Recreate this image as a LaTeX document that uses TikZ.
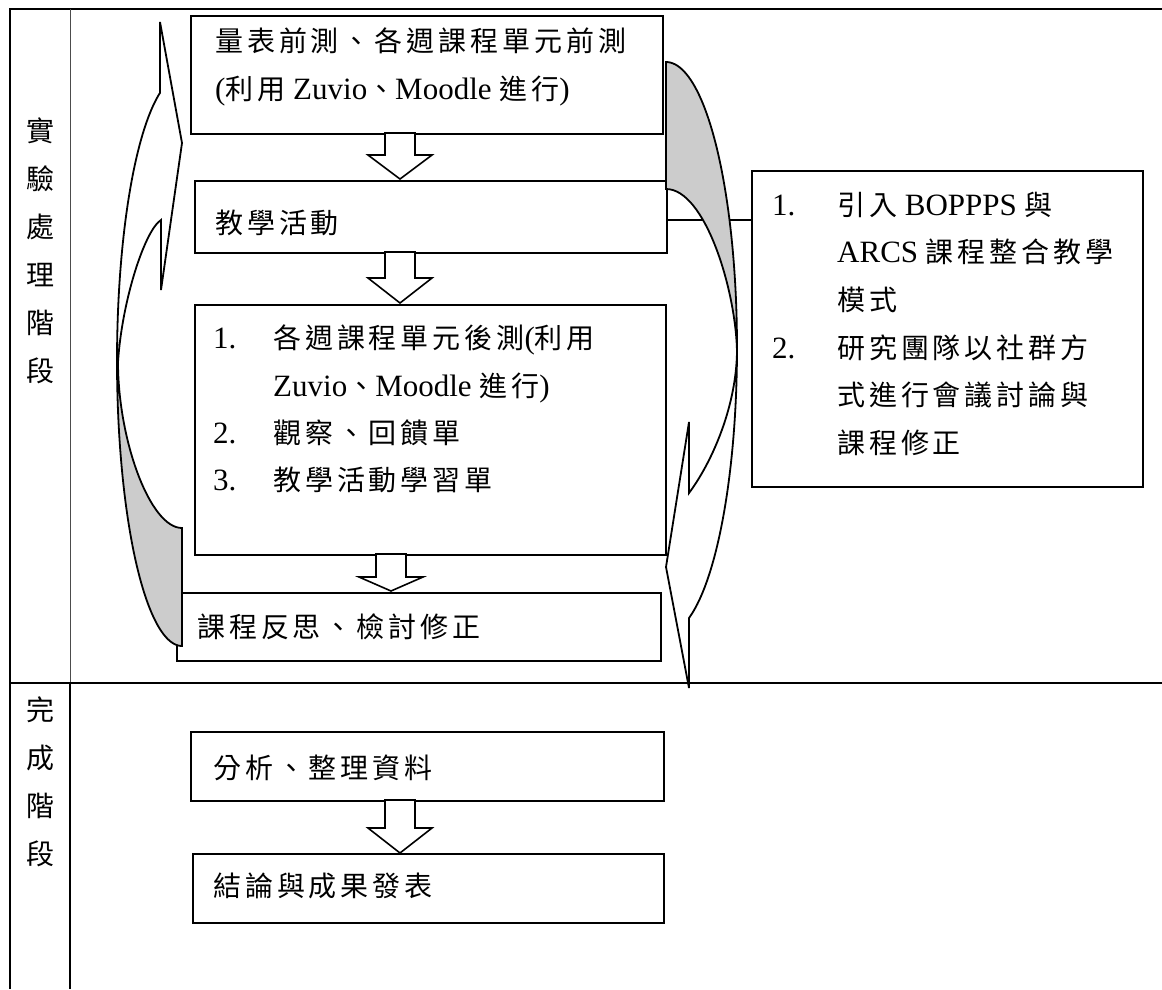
\documentclass[tikz,border=0pt]{standalone}
\usepackage{fontspec}
\setmainfont{Liberation Serif}
\newfontfamily\cjkf[LetterSpace=14]{Noto Sans CJK TC}
\newfontfamily\latf{Liberation Serif}
\newcommand\zhtext[1]{{\fontsize{28pt}{34pt}\cjkf #1}}
\newcommand\entext[1]{{\fontsize{31pt}{36pt}\latf #1}}
\tikzset{
  tline/.style={line width=2.2pt},
  thinline/.style={line width=1pt, black!70},
  box/.style={draw, line width=1.6pt, fill=white, inner sep=0pt, anchor=north west},
  txt/.style={anchor=base west, inner sep=0pt},
  carrow/.style={line width=1.8pt, line join=miter},
  hollow/.style={draw, line width=1.6pt, fill=white, line join=miter},
  conn/.style={line width=1.6pt},
  vlabel/.style={align=center, inner sep=0pt, font=\fontsize{28pt}{48pt}\cjkf},
}
\newcommand\dnarrow[4]{\draw[hollow] (#1-15,#2) -- (#1-15,#3) -- (#1-32,#3) -- (#1,#4) -- (#1+32,#3) -- (#1+15,#3) -- (#1+15,#2) -- cycle;}
\begin{document}
\begin{tikzpicture}[x=1pt, y=-1pt]
\useasboundingbox (0,0) rectangle (1162,989);
% table
\draw[tline] (9,9) -- (1162,9);
\draw[tline] (10,9) -- (10,989);
\draw[thinline] (70,9) -- (70,683);
\draw[tline] (70,683) -- (70,989);
\draw[tline] (9,683) -- (1162,683);
% left labels
\node[vlabel] (lab1) at (40,251) {實\\驗\\處\\理\\階\\段};
\node[vlabel] (lab2) at (40,782) {完\\成\\階\\段};
% boxes
\node[box, minimum width=472pt, minimum height=118pt] (b1) at (190,15) {};
\node[box, minimum width=472pt, minimum height=72pt] (b2) at (194,180) {};
\node[box, minimum width=471pt, minimum height=250pt] (b3) at (194,304) {};
\node[box, minimum width=484pt, minimum height=68pt] (b4) at (176,592) {};
\node[box, minimum width=391pt, minimum height=316pt] (b5) at (751,170) {};
\node[box, minimum width=473pt, minimum height=69pt] (b6) at (190,731) {};
\node[box, minimum width=471pt, minimum height=69pt] (b7) at (192,853) {};
% connector
\draw[conn] ([yshift=-3pt]b2.east) -- ([yshift=-3pt]b2.east -| b5.west);
% block arrows
\dnarrow{400}{133}{155}{179}
\dnarrow{400}{252}{278}{303}
\dnarrow{391}{554}{577}{591}
\dnarrow{400}{800}{828}{853}
% left curved arrow
\filldraw[carrow, fill=gray!40] plot[domain=180:90, samples=50] ({182+65*cos(\x)},{361+285*sin(\x)}) -- (182,528) .. controls (150,528) and (118,440) .. (118,362) -- cycle;
\draw[carrow] plot[domain=180:250.3, samples=50] ({182+65*cos(\x)},{361+285*sin(\x)}) -- (160,22) -- (182,143) -- (161,290) -- (161,220) .. controls (145,230) and (122,300) .. (118,362);
% right curved arrow
\filldraw[carrow, fill=gray!40] (666,189) .. controls (705,189) and (736,290) .. (737,352) -- plot[domain=361:270, samples=50] ({666+71*cos(\x)},{347.7+285.7*sin(\x)}) -- cycle;
\draw[carrow] plot[domain=361:431.1, samples=50] ({666+71*cos(\x)},{347.7+285.7*sin(\x)}) -- (689,688) -- (666,567) -- (689,422) -- (689,493) .. controls (710,465) and (736,410) .. (737,352);
% texts
\node[txt] (t1a) at (215,51) {\zhtext{量表前測、各週課程單元前測}};
\node[txt] (t1b) at (215,99) {\entext{(}\zhtext{利用}\entext{ Zuvio}\zhtext{、}\entext{Moodle }\zhtext{進行}\entext{)}};
\node[txt] (t2) at (215,233) {\zhtext{教學活動}};
\node[txt] (n31) at (213,348) {\entext{1.}};
\node[txt] (t31) at (273,348) {\zhtext{各週課程單元後測}\entext{(}\zhtext{利用}};
\node[txt] (t32) at (273,396) {\entext{Zuvio}\zhtext{、}\entext{Moodle }\zhtext{進行}\entext{)}};
\node[txt] (n33) at (213,443) {\entext{2.}};
\node[txt] (t33) at (273,443) {\zhtext{觀察、回饋單}};
\node[txt] (n34) at (213,490) {\entext{3.}};
\node[txt] (t34) at (273,490) {\zhtext{教學活動學習單}};
\node[txt] (t4) at (197,637) {\zhtext{課程反思、檢討修正}};
\node[txt] (n51) at (772,215) {\entext{1.}};
\node[txt] (t51) at (837,215) {\zhtext{引入}\entext{ BOPPPS }\zhtext{與}};
\node[txt] (t52) at (837,262) {\entext{ARCS }\zhtext{課程整合教學}};
\node[txt] (t53) at (837,310) {\zhtext{模式}};
\node[txt] (n54) at (772,358) {\entext{2.}};
\node[txt] (t54) at (837,358) {\zhtext{研究團隊以社群方}};
\node[txt] (t55) at (837,405) {\zhtext{式進行會議討論與}};
\node[txt] (t56) at (837,453) {\zhtext{課程修正}};
\node[txt] (t6) at (213,778) {\zhtext{分析、整理資料}};
\node[txt] (t7) at (213,896) {\zhtext{結論與成果發表}};
\end{tikzpicture}
\end{document}
